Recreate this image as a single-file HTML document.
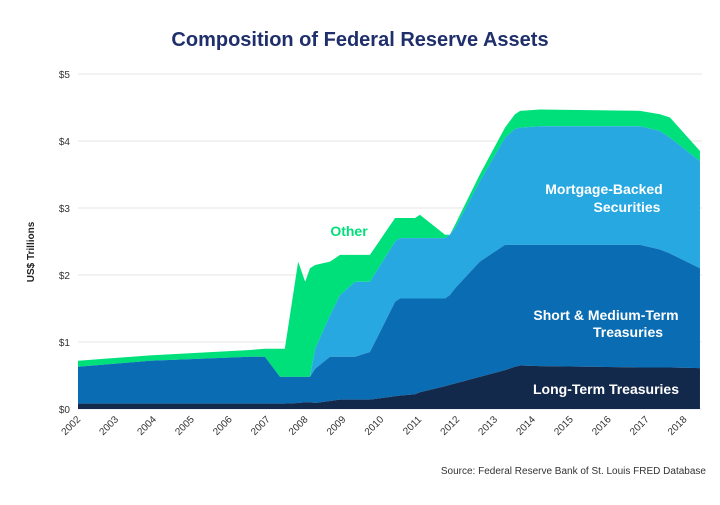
<!DOCTYPE html>
<html><head><meta charset="utf-8"><style>
body{margin:0;background:#fff;width:720px;height:500px;overflow:hidden;font-family:"Liberation Sans",sans-serif}
</style></head><body>
<svg id="chart" width="720" height="500" xmlns="http://www.w3.org/2000/svg">
<text x="360" y="46" text-anchor="middle" font-size="20" font-weight="bold" fill="#1f2f6b">Composition of Federal Reserve Assets</text>
<text transform="translate(34,252) rotate(-90)" text-anchor="middle" font-size="10" font-weight="bold" fill="#222">US$ Trillions</text>
<text x="706" y="474" text-anchor="end" font-size="10" fill="#333">Source: Federal Reserve Bank of St. Louis FRED Database</text>
<g id="grid"></g><g id="areas"></g><g id="xt"></g>
<text x="349" y="236" text-anchor="middle" font-size="14" font-weight="bold" fill="#00e07a">Other</text>
<text x="604" y="194" text-anchor="middle" font-size="14" font-weight="bold" fill="#fff">Mortgage-Backed</text>
<text x="627" y="212" text-anchor="middle" font-size="14" font-weight="bold" fill="#fff">Securities</text>
<text x="606" y="320" text-anchor="middle" font-size="14" font-weight="bold" fill="#fff">Short &amp; Medium-Term</text>
<text x="628" y="337" text-anchor="middle" font-size="14" font-weight="bold" fill="#fff">Treasuries</text>
<text x="606" y="394" text-anchor="middle" font-size="14" font-weight="bold" fill="#fff">Long-Term Treasuries</text>
</svg>
<script>
const dates=[2002,2003.95,2006.65,2007.05,2007.46,2007.59,2007.95,2008.14,2008.27,2008.41,2008.81,2008.95,2009.08,2009.49,2009.89,2010.57,2010.7,2011.11,2011.24,2011.92,2012.05,2012.19,2012.86,2013.54,2013.81,2013.95,2014.49,2017.19,2017.73,2018.0,2018.81];
const longTerm=[0.08,0.08,0.08,0.08,0.08,0.08,0.09,0.1,0.1,0.09,0.12,0.13,0.14,0.14,0.14,0.19,0.2,0.22,0.25,0.34,0.36,0.38,0.48,0.58,0.63,0.65,0.64,0.62,0.62,0.62,0.61];
const shortMedTop=[0.63,0.72,0.78,0.78,0.48,0.48,0.48,0.48,0.48,0.6,0.78,0.78,0.78,0.78,0.85,1.6,1.65,1.65,1.65,1.65,1.7,1.8,2.2,2.45,2.45,2.45,2.45,2.45,2.38,2.32,2.1];
const mbsTop=[0.63,0.72,0.78,0.78,0.48,0.48,0.48,0.48,0.48,0.9,1.4,1.55,1.7,1.9,1.9,2.5,2.55,2.55,2.55,2.55,2.6,2.7,3.4,4.05,4.18,4.2,4.22,4.22,4.15,4.05,3.7];
const totalTop=[0.72,0.8,0.88,0.9,0.9,0.9,2.2,1.9,2.1,2.15,2.2,2.25,2.3,2.3,2.3,2.85,2.85,2.85,2.9,2.6,2.6,2.75,3.5,4.2,4.4,4.45,4.47,4.45,4.4,4.35,3.85];
const yTicks=[0,1,2,3,4,5];
const yTickLabels=["$0","$1","$2","$3","$4","$5"];
const xYears=[2002,2003,2004,2005,2006,2007,2008,2009,2010,2011,2012,2013,2014,2015,2016,2017,2018];
const NS="http://www.w3.org/2000/svg";
const x=d=>78+(d-2002)*37;
const xLab=d=>78+(d-2002)*37.9;
const y=v=>409-v*67;
const grid=document.getElementById('grid');
yTicks.forEach((t,i)=>{
  const l=document.createElementNS(NS,'line');
  
  
  l.setAttribute('x1',78);l.setAttribute('x2',702);l.setAttribute('y1',y(t));l.setAttribute('y2',y(t));
  l.setAttribute('stroke','#e4e4e4');l.setAttribute('stroke-width','1');
  grid.appendChild(l);
  const tx=document.createElementNS(NS,'text');
  
  
  tx.setAttribute('x',70);tx.setAttribute('y',y(t)+4);tx.setAttribute('text-anchor','end');
  tx.setAttribute('font-size','10');tx.setAttribute('fill','#333');
  tx.textContent=yTickLabels[i];grid.appendChild(tx);
});
const areas=document.getElementById('areas');
function area(top,bot,color,name){
  let d='M'+dates.map((dt,i)=>x(dt)+','+y(top[i])).join('L');
  for(let i=dates.length-1;i>=0;i--)d+='L'+x(dates[i])+','+y(bot?bot[i]:0);
  const p=document.createElementNS(NS,'path');
  
  
  p.setAttribute('d',d+'Z');p.setAttribute('fill',color);
  areas.appendChild(p);
}
area(totalTop,mbsTop,'#00e07a','area-other');
area(mbsTop,shortMedTop,'#27a8e0','area-mbs');
area(shortMedTop,longTerm,'#0a6db3','area-short-medium');
area(longTerm,null,'#13294b','area-long-term');
const xt=document.getElementById('xt');
xYears.forEach(yr=>{
  const t=document.createElementNS(NS,'text');
  
  
  const px=xLab(yr)+3,py=420;
  t.setAttribute('transform','translate('+px+','+py+') rotate(-45)');
  t.setAttribute('text-anchor','end');t.setAttribute('font-size','10');t.setAttribute('fill','#333');
  t.textContent=yr;xt.appendChild(t);
});
</script>
</body></html>
